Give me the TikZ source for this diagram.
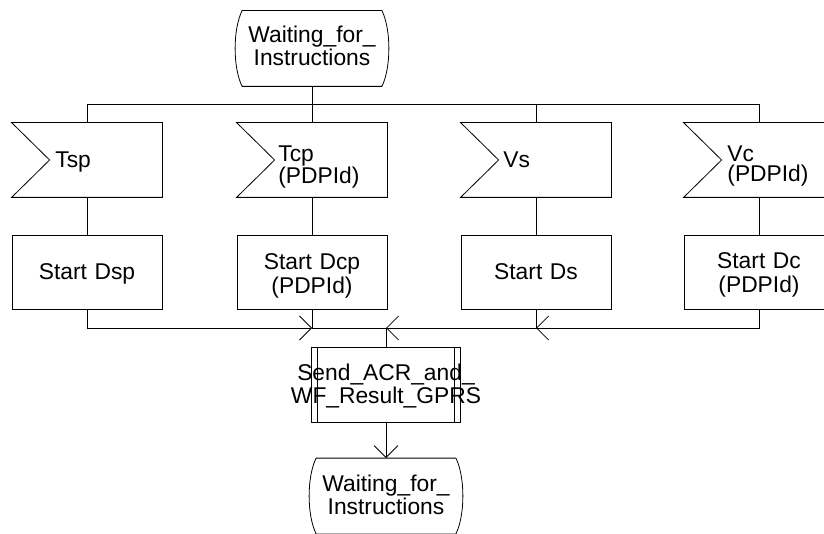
\documentclass[tikz,border=0pt]{standalone}
\usepackage{fontspec}
\setmainfont{Liberation Sans}
\usetikzlibrary{arrows.meta,calc}
\tikzset{
  frame/.style={rectangle, draw, minimum width=150pt, minimum height=74pt, inner sep=0pt},
  slot/.style={rectangle, minimum width=150pt, minimum height=74pt, inner sep=0pt},
  statebox/.style={rectangle, minimum width=153pt, minimum height=75pt, inner sep=0pt},
  txtl/.style={inner sep=0pt, anchor=base west, text width=85pt, align=left, font=\fontsize{22.8}{#1}\selectfont},
  txtl/.default=22.8,
  txtc/.style={inner sep=0pt, anchor=base, text width=200pt, align=center, font=\fontsize{22.8}{#1}\selectfont},
  txtc/.default=22.8,
  flow/.style={line width=0.8pt},
  arr/.style={flow, -{Straight Barb[length=12pt,width=24pt]}}
}
\begin{document}
\begin{tikzpicture}[x=1pt,y=-1pt,line width=0.8pt]
\useasboundingbox (0,0) rectangle (824,534);
\clip (0,0) rectangle (824,534);

% states
\node[statebox] (ws1) at (312,48.5) {};
\node[statebox] (ws2) at (386,496) {};
\foreach \s in {ws1,ws2}{
  \draw ($(\s.north west)+(7,0)$) coordinate (a\s) -- ($(\s.north east)+(-7,0)$)
    .. controls +(9.3,19) and +(9.3,-19) .. ($(\s.south east)+(-7,0)$)
    -- ($(\s.south west)+(7,0)$)
    .. controls +(-9.3,-19) and +(-9.3,19) .. (a\s) -- cycle;
}
\node[txtc=23] (ws1t) at (312,43) {Waiting\_for\_\\Instructions};
\node[txtc=23] (ws2t) at (386,491.5) {Waiting\_for\_\\Instructions};

% signals
\node[slot] (tsp) at (87,160) {};
\node[slot] (tcp) at (312,160) {};
\node[slot] (vs)  at (536,160) {};
\node[slot] (vc)  at (759,160) {};
\foreach \s in {tsp,tcp,vs,vc}{
  \draw (\s.north west) -- (\s.north east) -- (\s.south east) -- (\s.south west)
    -- ($(\s.west)+(38,0)$) -- cycle;
}
\node[txtl] (tspt) at (55,168) {Tsp};
\node[txtl=20] (tcpt) at (278,161.5) {Tcp\\(PDPId)};
\node[txtl] (vst) at (503,168) {Vs};
\node[txtl=20] (vct) at (727,161.5) {Vc\\(PDPId)};

% tasks
\node[frame] (dsp) at (87,272) {};
\node[frame] (dcp) at (312,272) {};
\node[frame] (ds)  at (536,272) {};
\node[frame] (dc)  at (759,272) {};
\node[txtc] (dspt) at (87,280) {Start Dsp};
\node[txtc=24] (dcpt) at (312,270) {Start Dcp\\(PDPId)};
\node[txtc] (dst) at (536,280) {Start Ds};
\node[txtc=24] (dct) at (759,269) {Start Dc\\(PDPId)};

% procedure call
\node[frame, minimum width=149pt, minimum height=75pt] (send) at (386,384.5) {};
\draw ($(send.north west)+(6.6,0)$) -- ($(send.south west)+(6.6,0)$);
\draw ($(send.north east)+(-6.6,0)$) -- ($(send.south east)+(-6.6,0)$);
\node[txtc=23] (sendt) at (386,380) {Send\_ACR\_and\_\\WF\_Result\_GPRS};

% bus
\coordinate (bus) at (0,104);
\draw[flow] (ws1.south) -- (ws1.south |- bus);
\draw[flow] (tsp.north) -- (tsp.north |- bus) -- (vc.north |- bus) -- (vc.north);
\draw[flow] (tcp.north) -- (tcp.north |- bus);
\draw[flow] (vs.north) -- (vs.north |- bus);

% signal to task
\draw[flow] (tsp.south) -- (dsp.north);
\draw[flow] (tcp.south) -- (dcp.north);
\draw[flow] (vs.south) -- (ds.north);
\draw[flow] (vc.south) -- (dc.north);

% merge
\coordinate (mrg) at (386,328);
\draw[arr] (dsp.south) |- (dcp.south |- mrg);
\draw[flow] (dcp.south) |- (mrg);
\draw[arr] (dc.south) |- (ds.south |- mrg);
\draw[arr] (ds.south) |- (mrg);
\draw[flow] (mrg) -- (send.north);
\draw[arr] (send.south) -- (ws2.north);
\end{tikzpicture}
\end{document}
